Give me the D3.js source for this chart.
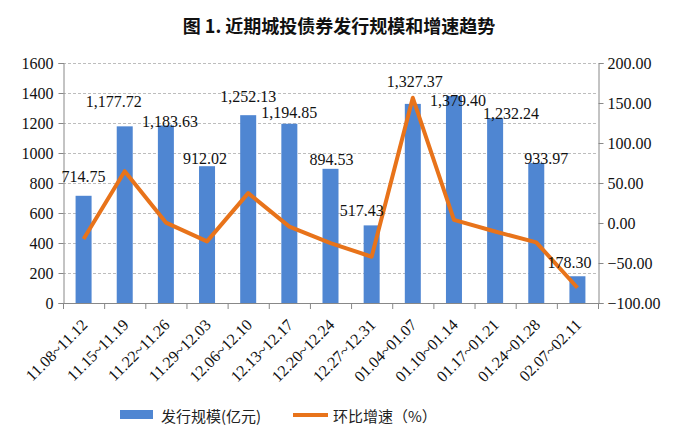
<!DOCTYPE html>
<html><head><meta charset="utf-8">
<script src="https://cdn.jsdelivr.net/npm/d3@7/dist/d3.min.js"></script>
<style>body{margin:0;background:#fff;} svg{display:block;}</style>
</head><body>
<svg id="c" width="681" height="441"></svg>
<script>
const categories = ["11.08~11.12","11.15~11.19","11.22~11.26","11.29~12.03","12.06~12.10","12.13~12.17","12.20~12.24","12.27~12.31","01.04~01.07","01.10~01.14","01.17~01.21","01.24~01.28","02.07~02.11"];
const issuance = [714.75,1177.72,1183.63,912.02,1252.13,1194.85,894.53,517.43,1327.37,1379.40,1232.24,933.97,178.30];
const growth = [-20.0,64.78,0.50,-22.95,37.29,-4.57,-25.13,-42.16,156.53,3.92,-10.67,-24.21,-80.91];
const leftTicks = [0,200,400,600,800,1000,1200,1400,1600];
const rightTicks = [-100,-50,0,50,100,150,200];
// label placement offsets (layout only)
const labelOffsets = [[0,-19],[-11,-25],[4,-4],[-2,-8],[0,-19],[0,-11],[1,-9],[-10,-15],[2,-22],[4,4],[16,-5],[10,-4],[-8,-14]];

const svg = d3.select("#c");
const L = 63, R = 598, T = 63, B = 303;
const serif = "'Liberation Serif','Times New Roman',serif";
const cjk = "'Noto Sans CJK SC',sans-serif";

const x = d3.scaleBand().domain(categories).range([L, R]).paddingInner(0).paddingOuter(0);
const yL = d3.scaleLinear().domain([0,1600]).range([B, T]);
const yR = d3.scaleLinear().domain([-100,200]).range([B, T]);

// title
svg.append("text").attr("x", 339).attr("y", 25).attr("text-anchor","middle")
  .attr("dominant-baseline","central").style("font-family", cjk).style("font-weight","bold")
  .style("font-size","18px").attr("fill","#111").text("图 1. 近期城投债券发行规模和增速趋势");

// grid
svg.append("g").selectAll("line").data(leftTicks.filter(d=>d>0)).join("line")
  .attr("x1", L).attr("x2", R).attr("y1", d=>yL(d)+0.5).attr("y2", d=>yL(d)+0.5)
  .attr("stroke","#bdbdbd").attr("stroke-dasharray","3,2").attr("stroke-width",1);

// bars
const bw = 16;
svg.append("g").selectAll("rect").data(issuance).join("rect")
  .attr("x", (d,i)=>x(categories[i]) + x.bandwidth()/2 - bw/2)
  .attr("width", bw)
  .attr("y", d=>yL(d)).attr("height", d=>B - yL(d))
  .attr("fill","#4f86d2");

// axes
const axL = d3.axisLeft(yL).tickValues(leftTicks).tickSize(5).tickPadding(5).tickFormat(d3.format("d"));
const gL = svg.append("g").attr("transform",`translate(${L+0.5},0)`).call(axL);
const axR = d3.axisRight(yR).tickValues(rightTicks).tickSize(5).tickPadding(4).tickFormat(d3.format(".2f"));
const gR = svg.append("g").attr("transform",`translate(${R+0.5},0)`).call(axR);
const axB = d3.axisBottom(x).tickSize(0).tickFormat("");
const gB = svg.append("g").attr("transform",`translate(0,${B+0.5})`).call(axB);
// band boundary ticks
svg.append("g").selectAll("line").data(d3.range(categories.length+1)).join("line")
  .attr("x1", i=>L + i*x.step()+0.5).attr("x2", i=>L + i*x.step()+0.5)
  .attr("y1", B).attr("y2", B+6).attr("stroke","#888");
[gL,gR,gB].forEach(g=>{
  g.select(".domain").attr("stroke","#888");
  g.selectAll(".tick line").attr("stroke","#888");
  g.selectAll("text").style("font-family", serif).style("font-size","16px").attr("fill","#111");
});
gB.select(".domain").attr("d", `M${L},0H${R}`);

// x labels rotated
svg.append("g").selectAll("text").data(categories).join("text")
  .attr("transform", d=>`translate(${x(d)+x.bandwidth()/2+1},${B+19}) rotate(-45)`)
  .attr("text-anchor","end").attr("dominant-baseline","central")
  .style("font-family", serif).style("font-size","16px").attr("fill","#111").text(d=>d);

// line
const line = d3.line().x((d,i)=>x(categories[i])+x.bandwidth()/2).y(d=>yR(d));
svg.append("path").datum(growth).attr("d", line).attr("fill","none")
  .attr("stroke","#e8731a").attr("stroke-width",4).attr("stroke-linejoin","round");

// data labels
const fmt = d3.format(",.2f");
svg.append("g").selectAll("text").data(issuance).join("text")
  .attr("x", (d,i)=>x(categories[i])+x.bandwidth()/2 + labelOffsets[i][0])
  .attr("y", (d,i)=>yL(d) + labelOffsets[i][1])
  .attr("text-anchor","middle").attr("dominant-baseline","central")
  .style("font-family", serif).style("font-size","16px").attr("fill","#111").text(d=>fmt(d));

// legend
const lg = svg.append("g");
lg.append("rect").attr("x",120).attr("y",410).attr("width",33).attr("height",9).attr("fill","#4f86d2");
lg.append("text").attr("x",161).attr("y",415).attr("dominant-baseline","central")
  .style("font-family", cjk).style("font-size","15px").attr("fill","#222").text("发行规模(亿元)");
lg.append("line").attr("x1",293).attr("x2",328).attr("y1",415).attr("y2",415)
  .attr("stroke","#e8731a").attr("stroke-width",4);
lg.append("text").attr("x",333).attr("y",415).attr("dominant-baseline","central")
  .style("font-family", cjk).style("font-size","15px").attr("fill","#222").text("环比增速（%）");
</script>
</body></html>
